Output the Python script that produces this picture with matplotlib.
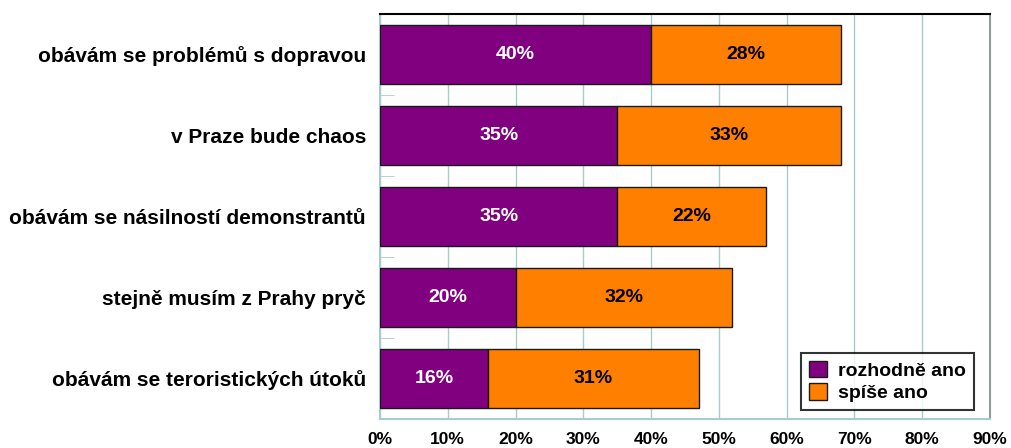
import matplotlib
matplotlib.use("Agg")
import matplotlib.pyplot as plt
import numpy as np

categories = ["obávám se problémů s dopravou", "v Praze bude chaos",
              "obávám se násilností demonstrantů", "stejně musím z Prahy pryč",
              "obávám se teroristických útoků"]
rozhodne = [40, 35, 35, 20, 16]
spise = [28, 33, 22, 32, 31]
series_names = ["rozhodně ano", "spíše ano"]
xticks = [0, 10, 20, 30, 40, 50, 60, 70, 80, 90]

plt.rcParams['font.family'] = ['Liberation Sans', 'DejaVu Sans']
fig = plt.figure(figsize=(10.11, 4.48), dpi=100)
ax = fig.add_axes([380/1011, 1-419/448, 610/1011, 405/448])

y = np.arange(len(categories))
h = 0.74
ax.barh(y, rozhodne, height=h, color='#800080', edgecolor='#1a1a1a', linewidth=1, label=series_names[0], zorder=3)
ax.barh(y, spise, left=rozhodne, height=h, color='#FF8000', edgecolor='#1a1a1a', linewidth=1, label=series_names[1], zorder=3)

for i in range(len(categories)):
    ax.text(rozhodne[i]/2, y[i], f"{rozhodne[i]}%", ha='center', va='center', color='white',
            fontsize=14, fontweight='bold', zorder=4)
    ax.text(rozhodne[i] + spise[i]/2, y[i], f"{spise[i]}%", ha='center', va='center', color='black',
            fontsize=14, fontweight='bold', zorder=4)

ax.set_xlim(0, 90)
ax.set_ylim(len(categories)-0.5, -0.5)
ax.set_xticks(xticks)
ax.set_xticklabels([f"{t}%" for t in xticks], fontsize=12.5, fontweight='bold')
ax.set_yticks(y)
ax.set_yticklabels(categories, fontsize=15, fontweight='bold')
ax.tick_params(axis='y', length=0, pad=10)
ax.tick_params(axis='x', length=0, pad=9)
ax.set_yticks(np.arange(len(categories)+1) - 0.5, minor=True)
ax.tick_params(axis='y', which='minor', direction='in', length=10, color='#a8cccc')
ax.xaxis.grid(True, color='#a8cccc', linewidth=1, zorder=0)
ax.set_axisbelow(True)
ax.spines['top'].set_color('black')
ax.spines['top'].set_linewidth(1.5)
ax.spines['left'].set_color('#a8cccc')
ax.spines['left'].set_linewidth(1.5)
ax.spines['bottom'].set_color('#a8cccc')
ax.spines['bottom'].set_linewidth(1.5)
ax.spines['right'].set_color('#909c9c')
ax.spines['right'].set_linewidth(1.5)

leg = ax.legend(loc='lower right', bbox_to_anchor=(974/1011*1011/610 - 380/610, (419-410)/405),
                fontsize=14, frameon=True,
                fancybox=False, edgecolor='black', handlelength=0.9, handleheight=0.9,
                handletextpad=0.6, borderpad=0.4, labelspacing=0.2, borderaxespad=0)
for t in leg.get_texts():
    t.set_fontweight('bold')
leg.get_frame().set_linewidth(1.5)

fig.savefig("out.png", dpi=100)
